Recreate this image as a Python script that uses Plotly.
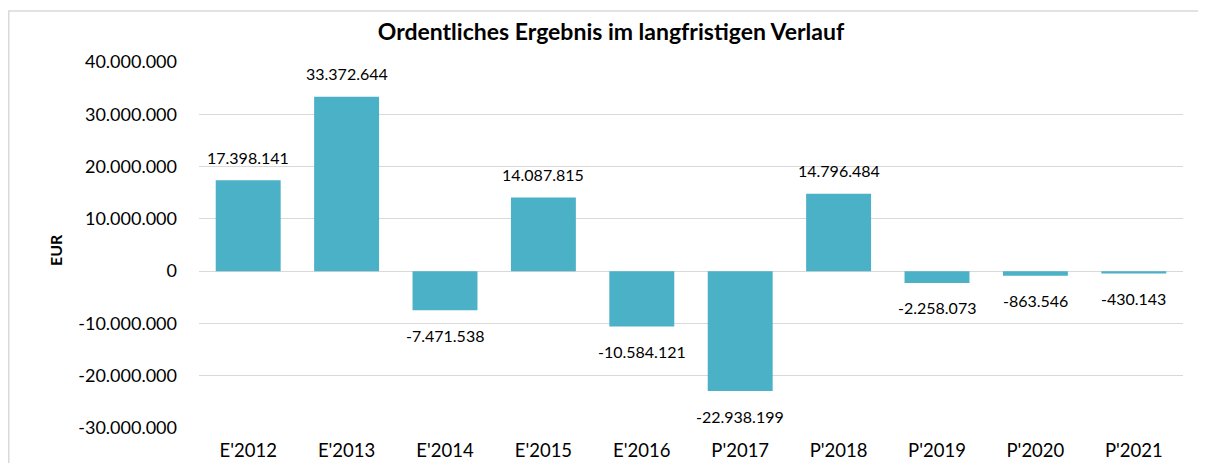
import plotly.graph_objects as go

categories = ["E'2012", "E'2013", "E'2014", "E'2015", "E'2016", "P'2017", "P'2018", "P'2019", "P'2020", "P'2021"]
values = [17398141, 33372644, -7471538, 14087815, -10584121, -22938199, 14796484, -2258073, -863546, -430143]
tick_vals = [40000000, 30000000, 20000000, 10000000, 0, -10000000, -20000000, -30000000]


def de_fmt(v):
    s = f"{abs(v):,}".replace(",", ".")
    return ("-" if v < 0 else "") + s


tick_text = [de_fmt(v) for v in tick_vals]

W, H = 1206, 463
L, R, T, B = 191, 31, 54, 43
PW, PH = W - L - R, H - T - B
FONT = "Lato"

fig = go.Figure()
fig.add_trace(go.Bar(
    x=categories, y=values,
    marker=dict(color="#4BB1C6", line=dict(width=0)),
    hoverinfo="x+y",
))

for c, v in zip(categories, values):
    fig.add_annotation(
        x=c, y=v, text=de_fmt(v), showarrow=False,
        yanchor="middle", yshift=23 if v >= 0 else -25,
        font=dict(family=FONT, size=16, color="#000000"),
    )

fig.add_annotation(
    text="<b>EUR</b>", xref="paper", yref="paper",
    x=-(L - 47) / PW, y=(H - B - 242) / PH,
    xanchor="center", yanchor="middle", textangle=-90,
    showarrow=False, font=dict(family=FONT, size=16, color="#000000"),
)

fig.update_layout(
    width=W, height=H,
    margin=dict(l=L, r=R, t=T, b=B, autoexpand=False),
    paper_bgcolor="white", plot_bgcolor="white",
    bargap=0.34,
    showlegend=False,
    title=dict(
        text="<b>Ordentliches Ergebnis im langfristigen Verlauf</b>",
        x=603 / W, xref="container", xanchor="center",
        y=1 - 24 / H, yref="container", yanchor="middle",
        font=dict(family=FONT, size=23, color="#000000"),
    ),
    font=dict(family=FONT, color="#000000"),
    xaxis=dict(
        showgrid=False, showline=False, zeroline=False,
        tickfont=dict(family=FONT, size=18.5, color="#000000"),
        ticks="",
        ticklabelstandoff=9,
        automargin=False,
    ),
    yaxis=dict(
        range=[-30000000, 40000000],
        tickvals=tick_vals, ticktext=tick_text,
        tickfont=dict(family=FONT, size=18, color="#000000"),
        showgrid=True, gridcolor="#D9D9D9", gridwidth=1,
        zeroline=True, zerolinecolor="#D9D9D9", zerolinewidth=1,
        showline=False, ticks="",
        ticklabelstandoff=21,
        automargin=False,
    ),
    shapes=[
        dict(
            type="rect", xref="paper", yref="paper",
            x0=-(L - 0.75) / PW, x1=1 + (R + 30) / PW,
            y0=-(B + 10) / PH, y1=1 + (T - 3) / PH,
            line=dict(color="#D9D9D9", width=1.5), fillcolor="rgba(0,0,0,0)",
            layer="below",
        )
    ],
)

fig.write_html("out.html")
